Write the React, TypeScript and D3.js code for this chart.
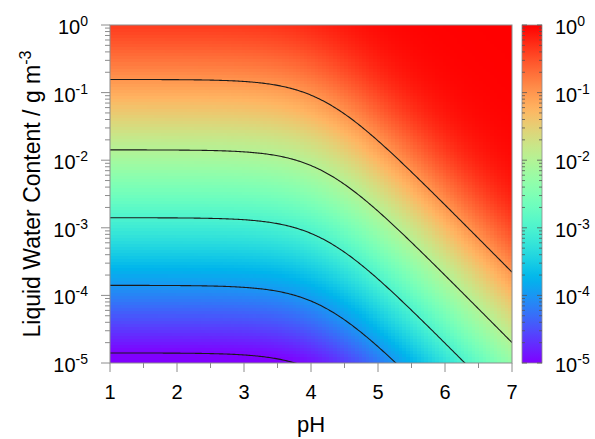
import { useMemo } from 'react';
import * as d3 from 'd3';

// axes
const pHDomain = [1, 7];
const lwcDomain = [1e-5, 1];
const pHTicks = [1, 2, 3, 4, 5, 6, 7];
const pHMinorTicks = [1.5, 2.5, 3.5, 4.5, 5.5, 6.5];
const lwcExponents = [0, -1, -2, -3, -4, -5];

// contour levels of the aqueous fraction
const contourLevels = [1e-1, 1e-2, 1e-3, 1e-4, 1e-5];

// partitioning parameters (plateau + bend)
const henryK = 0.71; // m3 g-1, undissociated acid
const pKa = 4.15;

const nCellsX = 110;
const nCellsY = 110;

const margin = { left: 110, right: 83, top: 25, bottom: 76 };
const W = 595;
const H = 439;

const fraction = (pH: number, lwc: number) => {
  const x = henryK * (1 + Math.pow(10, pH - pKa)) * lwc;
  return x / (1 + x);
};

// matplotlib-style "rainbow"
const rainbow = (t: number) => {
  const r = Math.min(1, Math.abs(2 * t - 0.5));
  const g = Math.sin(Math.PI * t);
  const b = Math.cos((Math.PI * t) / 2);
  return d3.rgb(r * 255, g * 255, b * 255).formatHex();
};

const colorT = d3.scaleLinear().domain([-5, 0]).range([0, 1]).clamp(true);
const colorOf = (v: number) => rainbow(colorT(Math.log10(v)));

function Pow({ x, y, exp, anchor }: { x: number; y: number; exp: number; anchor: string }) {
  return (
    <text x={x} y={y} textAnchor={anchor} fontSize={20}>
      10
      <tspan dy={-8} fontSize={14}>
        {exp}
      </tspan>
    </text>
  );
}

export default function App() {
  const x0 = margin.left;
  const x1 = W - margin.right;
  const y0 = margin.top;
  const y1 = H - margin.bottom;

  const x = d3.scaleLinear().domain(pHDomain).range([x0, x1]);
  const y = d3.scaleLog().domain(lwcDomain).range([y1, y0]);
  const logY = d3.scaleLinear().domain([-5, 0]).range([y1, y0]);

  const cells = useMemo(() => {
    const out: { px: number; py: number; pw: number; ph: number; fill: string }[] = [];
    const dpH = (pHDomain[1] - pHDomain[0]) / nCellsX;
    const dL = 5 / nCellsY;
    for (let i = 0; i < nCellsX; i++) {
      for (let j = 0; j < nCellsY; j++) {
        const pa = pHDomain[0] + i * dpH;
        const la = -5 + j * dL;
        const v = fraction(pa + dpH / 2, Math.pow(10, la + dL / 2));
        const xa = x(pa);
        const xb = x(pa + dpH);
        const ya = logY(la + dL);
        const yb = logY(la);
        out.push({ px: xa, py: ya, pw: xb - xa + 0.6, ph: yb - ya + 0.6, fill: colorOf(v) });
      }
    }
    return out;
  }, []);

  const pHs = d3.range(pHDomain[0], pHDomain[1] + 0.001, 0.02);
  const line = d3
    .line<number[]>()
    .x((d) => x(d[0]))
    .y((d) => y(d[1]));
  const contours = contourLevels.map((c) =>
    pHs.map((p) => [p, c / (1 - c) / (henryK * (1 + Math.pow(10, p - pKa)))])
  );

  const minor: number[] = [];
  for (let e = -5; e < 0; e++) for (let k = 2; k <= 9; k++) minor.push(k * Math.pow(10, e));

  const cbX0 = 522;
  const cbX1 = 542;
  const stops = d3.range(0, 1.0001, 0.02);

  return (
    <svg
      width={W}
      height={H}
      style={{ position: 'absolute', left: 0, top: 0, background: '#fff' }}
      fontFamily="'Liberation Sans', Arial, sans-serif"
    >
      <defs>
        <clipPath id="plot">
          <rect x={x0} y={y0} width={x1 - x0} height={y1 - y0} />
        </clipPath>
        <linearGradient id="cbar" x1="0" y1="1" x2="0" y2="0">
          {stops.map((s) => (
            <stop key={s} offset={s} stopColor={rainbow(s)} />
          ))}
        </linearGradient>
      </defs>

      <g clipPath="url(#plot)" shapeRendering="crispEdges">
        {cells.map((c, i) => (
          <rect key={i} x={c.px} y={c.py} width={c.pw} height={c.ph} fill={c.fill} />
        ))}
      </g>
      <g clipPath="url(#plot)">
        {contours.map((pts, i) => (
          <path key={i} d={line(pts) || ''} fill="none" stroke="#1a1a1a" strokeWidth={1.1} />
        ))}
      </g>

      {/* frame */}
      <rect x={x0} y={y0} width={x1 - x0} height={y1 - y0} fill="none" stroke="#8c8c8c" strokeWidth={1} />

      {/* y axis ticks */}
      <g stroke="#8c8c8c" strokeWidth={1}>
        {lwcExponents.map((e) => (
          <line key={e} x1={x0 - 9} x2={x0} y1={y(Math.pow(10, e))} y2={y(Math.pow(10, e))} />
        ))}
        {minor.map((m) => (
          <line key={m} x1={x0 - 5} x2={x0} y1={y(m)} y2={y(m)} />
        ))}
        {pHTicks.map((p) => (
          <line key={p} x1={x(p)} x2={x(p)} y1={y1} y2={y1 + 9} />
        ))}
        {pHMinorTicks.map((p) => (
          <line key={p} x1={x(p)} x2={x(p)} y1={y1} y2={y1 + 5} />
        ))}
      </g>

      {lwcExponents.map((e) => (
        <Pow key={e} x={88} y={y(Math.pow(10, e)) + 9} exp={e} anchor="end" />
      ))}
      {pHTicks.map((p) => (
        <text key={p} x={x(p)} y={399} textAnchor="middle" fontSize={20}>
          {p}
        </text>
      ))}

      <text x={(x0 + x1) / 2} y={432} textAnchor="middle" fontSize={22}>
        pH
      </text>
      <text transform={`translate(40, ${(y0 + y1) / 2}) rotate(-90)`} textAnchor="middle" fontSize={23}>
        Liquid Water Content / g m
        <tspan dy={-9} fontSize={16}>
          -3
        </tspan>
      </text>

      {/* colorbar */}
      <rect x={cbX0} y={y0} width={cbX1 - cbX0} height={y1 - y0} fill="url(#cbar)" stroke="#8c8c8c" strokeWidth={0.8} />
      <g stroke="#555" strokeWidth={0.8}>
        {lwcExponents.map((e) => (
          <g key={e}>
            <line x1={cbX0} x2={cbX0 + 5} y1={y(Math.pow(10, e))} y2={y(Math.pow(10, e))} />
            <line x1={cbX1 - 5} x2={cbX1} y1={y(Math.pow(10, e))} y2={y(Math.pow(10, e))} />
          </g>
        ))}
        {minor.map((m) => (
          <g key={m}>
            <line x1={cbX0} x2={cbX0 + 3} y1={y(m)} y2={y(m)} />
            <line x1={cbX1 - 3} x2={cbX1} y1={y(m)} y2={y(m)} />
          </g>
        ))}
      </g>
      {lwcExponents.map((e) => (
        <Pow key={e} x={555} y={y(Math.pow(10, e)) + 9} exp={e} anchor="start" />
      ))}
    </svg>
  );
}
